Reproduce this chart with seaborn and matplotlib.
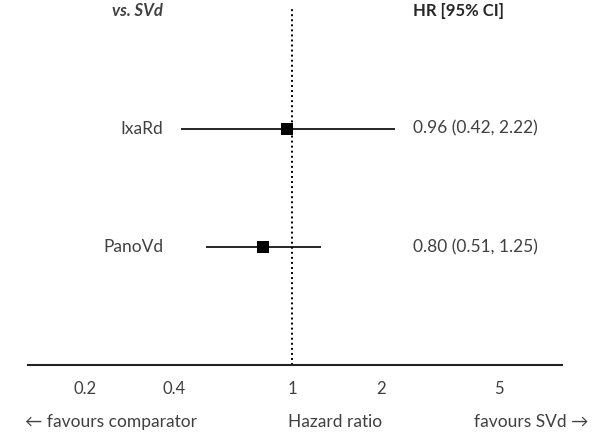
import matplotlib
matplotlib.use("Agg")
import matplotlib.pyplot as plt
import seaborn as sns
import pandas as pd

treatments = ["IxaRd", "PanoVd"]
hr = [0.96, 0.80]
ci_low = [0.42, 0.51]
ci_high = [2.22, 1.25]
row_pos = [2, 1]
hr_labels = ["0.96 (0.42, 2.22)", "0.80 (0.51, 1.25)"]
tick_values = [0.2, 0.4, 1, 2, 5]
tick_labels = ["0.2", "0.4", "1", "2", "5"]

sns.set_style("white")
plt.rcParams["font.family"] = ["Lato", "DejaVu Sans"]

df = pd.DataFrame({"treatment": treatments, "hr": hr, "lo": ci_low,
                   "hi": ci_high, "y": row_pos, "label": hr_labels})

W, H = 598, 436
fig = plt.figure(figsize=(W / 100, H / 100), dpi=100)
ax = fig.add_axes([28 / W, 1 - 365 / H, (562 - 28) / W, 365 / H])

txt = "#404040"
fs = 12.5

# confidence intervals + point estimates
ax.hlines(df["y"], df["lo"], df["hi"], color="black", lw=1.2, zorder=2)
sns.scatterplot(data=df, x="hr", y="y", marker="s", s=64, color="black",
                edgecolor="black", linewidth=0, ax=ax, zorder=3, legend=False)
ax.axvline(1, ymin=0, ymax=(365 - 8) / 365, color="black", lw=1.4,
           linestyle=(0, (1, 1.6)), zorder=1)

ax.set_xscale("log")
ax.set_xlim(0.128, 8.17)
ax.set_ylim(0, 3.09)
ax.set_xticks(tick_values)
ax.set_xticklabels(tick_labels)
ax.minorticks_off()
ax.set_yticks([])
ax.set_xlabel("")
ax.set_ylabel("")
for side in ["top", "left", "right"]:
    ax.spines[side].set_visible(False)
ax.spines["bottom"].set_linewidth(1.5)
ax.spines["bottom"].set_color("#222222")
ax.tick_params(axis="x", direction="inout", length=5, width=1.5,
               color="#222222", pad=9, labelsize=12, labelcolor=txt)

for _, r in df.iterrows():
    ax.text(0.367, r["y"], r["treatment"], ha="right", va="center",
            fontsize=fs, color=txt)
    ax.text(2.56, r["y"], r["label"], ha="left", va="center",
            fontsize=fs, color=txt)

ax.text(0.367, 3.0, "vs. SVd", ha="right", va="center", fontsize=12,
        fontweight="bold", fontstyle="italic", color=txt)
ax.text(2.56, 3.0, "HR [95% CI]", ha="left", va="center", fontsize=12,
        fontweight="bold", color="#262626")

fig.text(25 / W, 1 - 422 / H, "\u2190 favours comparator", ha="left",
         va="center", fontsize=fs, color=txt)
fig.text(335 / W, 1 - 422 / H, "Hazard ratio", ha="center", va="center",
         fontsize=fs, color=txt)
fig.text(588 / W, 1 - 422 / H, "favours SVd \u2192", ha="right",
         va="center", fontsize=fs, color=txt)

fig.savefig("out.png", dpi=100)
